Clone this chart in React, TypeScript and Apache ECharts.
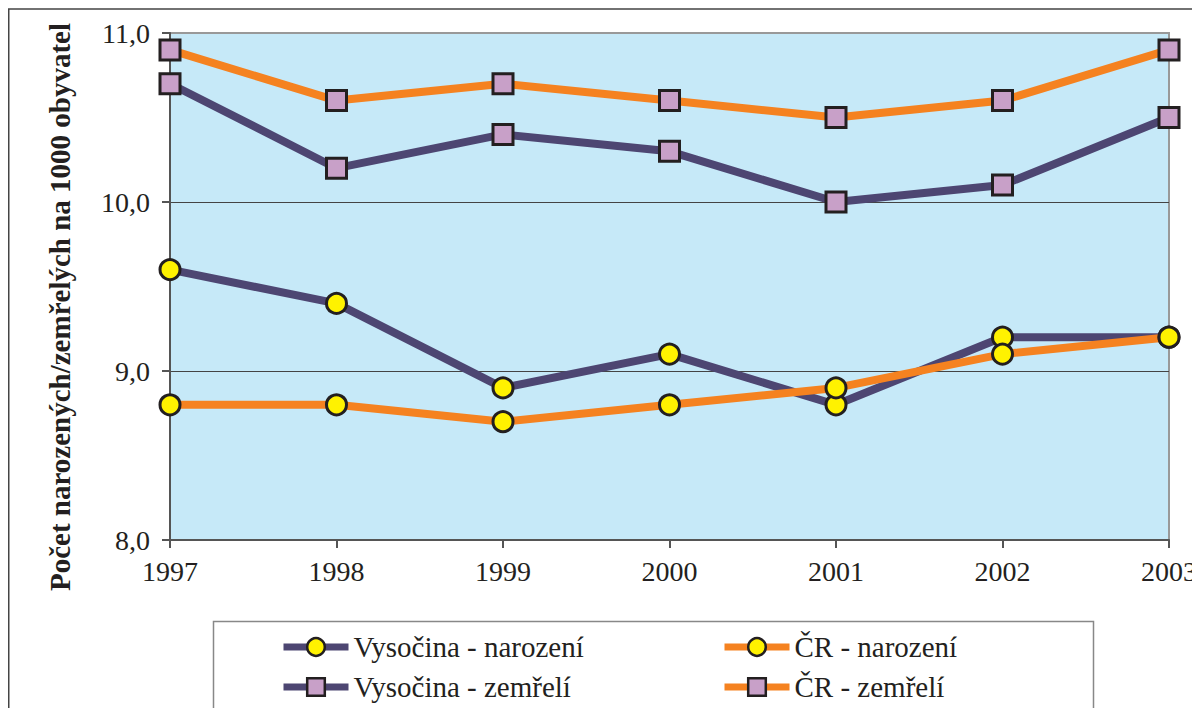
import React, { useEffect, useRef } from "react";
import * as echarts from "echarts";

const years = ["1997", "1998", "1999", "2000", "2001", "2002", "2003"];
const vysocinaNarozeni = [9.6, 9.4, 8.9, 9.1, 8.8, 9.2, 9.2];
const crNarozeni = [8.8, 8.8, 8.7, 8.8, 8.9, 9.1, 9.2];
const vysocinaZemreli = [10.7, 10.2, 10.4, 10.3, 10.0, 10.1, 10.5];
const crZemreli = [10.9, 10.6, 10.7, 10.6, 10.5, 10.6, 10.9];
const seriesNames = ["Vysočina - narození", "ČR - narození", "Vysočina - zemřelí", "ČR - zemřelí"];
const yTitle = "Počet narozených/zemřelých na 1000 obyvatel";

const NAVY = "#4D4672";
const ORANGE = "#F58220";
const YELLOW = "#FFF200";
const PINK = "#C8A0C8";
const EDGE = "#231F20";
const FONT = "'Liberation Serif', 'Times New Roman', serif";

export default function App() {
  const ref = useRef<HTMLDivElement>(null);
  useEffect(() => {
    if (!ref.current) return;
    const chart = echarts.init(ref.current, null, { renderer: "svg" });
    const mk = (name: string, data: number[], color: string, symbol: string, fill: string) => ({
      name,
      type: "line",
      data,
      symbol,
      symbolSize: 20,
      showAllSymbol: true,
      lineStyle: { color, width: 8 },
      itemStyle: { color: fill, borderColor: EDGE, borderWidth: 3 },
      emphasis: { disabled: true },
      z: 3,
    });
    const legendCommon = {
      type: "plain",
      orient: "horizontal",
      top: 624,
      itemWidth: 65,
      itemHeight: 22,
      itemGap: 10,
      padding: 0,
      lineStyle: { width: 7 },
      itemStyle: { borderWidth: 2.5, borderColor: EDGE },
      textStyle: { fontFamily: FONT, fontSize: 29, lineHeight: 30, color: EDGE, padding: [0, 0, 0, 0] },
      selectedMode: false,
    };
    chart.setOption({
      animation: false,
      backgroundColor: "#ffffff",
      textStyle: { fontFamily: FONT },
      grid: {
        left: 162,
        top: 25,
        right: 29,
        bottom: 168,
        show: true,
        backgroundColor: "#C6E9F8",
        borderColor: "#999999",
        borderWidth: 2,
      },
      xAxis: {
        type: "category",
        data: years,
        boundaryGap: false,
        axisLine: { lineStyle: { color: "#555555", width: 2 } },
        axisTick: { show: true, length: 8, inside: false, lineStyle: { color: "#555555", width: 2 } },
        axisLabel: { fontFamily: FONT, fontSize: 28, color: EDGE, margin: 17 },
        splitLine: { show: false },
      },
      yAxis: {
        type: "value",
        min: 8,
        max: 11,
        interval: 1,
        axisLine: { show: true, lineStyle: { color: "#555555", width: 2 } },
        axisTick: { show: true, length: 8, lineStyle: { color: "#555555", width: 2 } },
        axisLabel: {
          fontFamily: FONT,
          fontSize: 28,
          color: EDGE,
          margin: 20,
          formatter: (v: number) => v.toFixed(1).replace(".", ","),
        },
        splitLine: { show: true, lineStyle: { color: ["#555555", "#444444", "#444444", "#999999"], width: 1 } },
      },
      legend: [
        { ...legendCommon, left: 272, width: 320, data: [seriesNames[0], seriesNames[2]] },
        { ...legendCommon, left: 713, width: 240, data: [seriesNames[1], seriesNames[3]] },
      ],
      graphic: [
        {
          type: "rect",
          shape: { x: 0.75, y: 1, width: 1400, height: 900 },
          style: { fill: "none", stroke: "#444444", lineWidth: 1.5 },
          silent: true,
          z: -10,
        },
        {
          type: "rect",
          shape: { x: 205.5, y: 613.5, width: 880, height: 200 },
          style: { fill: "#ffffff", stroke: "#888888", lineWidth: 1.5 },
          silent: true,
          z: -5,
        },
        {
          type: "text",
          x: 52,
          y: 299,
          rotation: Math.PI / 2,
          style: {
            text: yTitle,
            fontFamily: FONT,
            fontSize: 29,
            fontWeight: "bold",
            fill: EDGE,
            textAlign: "center",
            textVerticalAlign: "middle",
          },
        },
      ],
      series: [
        mk(seriesNames[0], vysocinaNarozeni, NAVY, "circle", YELLOW),
        mk(seriesNames[1], crNarozeni, ORANGE, "circle", YELLOW),
        mk(seriesNames[2], vysocinaZemreli, NAVY, "rect", PINK),
        mk(seriesNames[3], crZemreli, ORANGE, "rect", PINK),
      ],
    });
    return () => chart.dispose();
  }, []);
  return <div ref={ref} style={{ width: 1192, height: 700 }} />;
}
